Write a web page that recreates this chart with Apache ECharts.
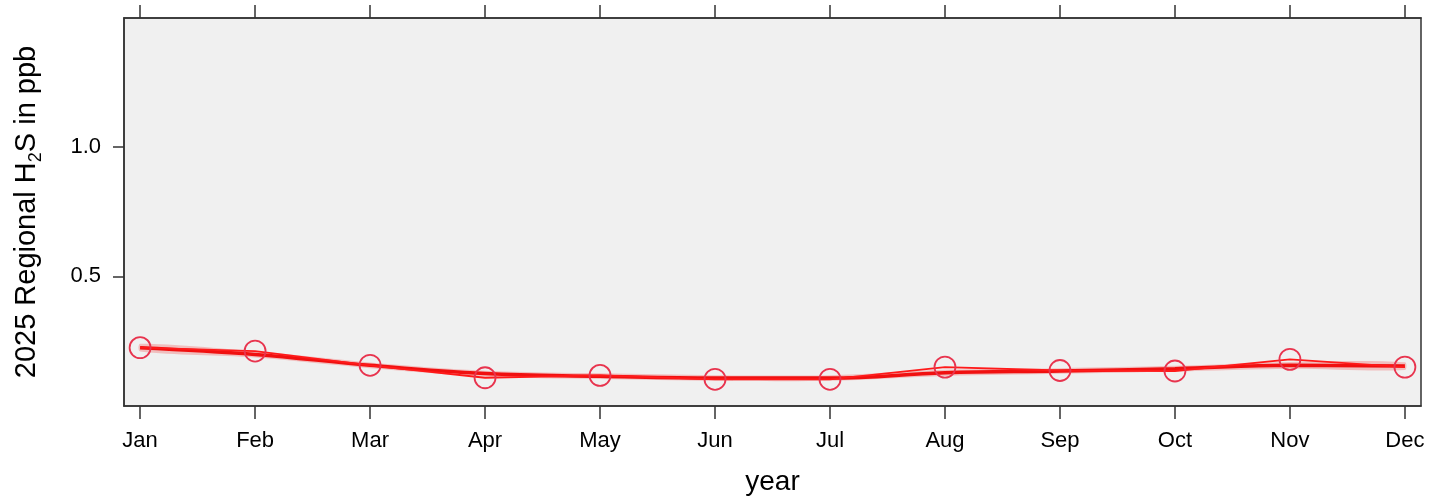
<!DOCTYPE html>
<html><head><meta charset="utf-8">
<script src="https://cdn.jsdelivr.net/npm/echarts@6/dist/echarts.min.js"></script>
<style>html,body{margin:0;padding:0;background:#fff}#c{width:1437px;height:502px}</style>
</head><body><div id="c"></div>
<script>
const months = ['Jan','Feb','Mar','Apr','May','Jun','Jul','Aug','Sep','Oct','Nov','Dec'];
const monthIndex = [0,1,2,3,4,5,6,7,8,9,10,11];
const h2s = [0.225, 0.212, 0.157, 0.109, 0.118, 0.103, 0.103, 0.150, 0.137, 0.135, 0.180, 0.150];
const smooth = [0.225, 0.199, 0.157, 0.125, 0.115, 0.108, 0.108, 0.128, 0.135, 0.144, 0.157, 0.154];
const bandLower = [0.210, 0.187, 0.146, 0.114, 0.104, 0.097, 0.097, 0.116, 0.124, 0.133, 0.144, 0.139];
const bandUpper = [0.240, 0.211, 0.168, 0.136, 0.126, 0.119, 0.119, 0.140, 0.146, 0.155, 0.170, 0.169];
const yTicks = [0.5, 1.0];

const pts = (arr) => monthIndex.map((m, i) => [m, arr[i]]);
const bandData = monthIndex.map((m, i) => [m, bandLower[i], bandUpper[i]]);

const font = 'Liberation Sans, Arial, sans-serif';
const chart = echarts.init(document.getElementById('c'), null, {renderer: 'canvas'});
const xBase = {
  type: 'value', min: -0.14, max: 11.14,
  axisLine: {show: true, onZero: false, lineStyle: {color: '#333', width: 1.5}},
  splitLine: {show: false},
};
chart.setOption({
  animation: false,
  backgroundColor: '#fff',
  grid: {left: 124, top: 18, right: 16, bottom: 96, show: true, backgroundColor: '#f0f0f0', borderColor: '#333', borderWidth: 1.5,
    containLabel: false, outerBoundsMode: 'none'},
  xAxis: [
    Object.assign({}, xBase, {
      position: 'bottom',
      name: 'year', nameLocation: 'middle', nameGap: 62,
      nameTextStyle: {fontFamily: font, fontSize: 28, color: '#000'},
      axisTick: {show: true, length: 13, inside: false, customValues: monthIndex, lineStyle: {color: '#333', width: 1.5}},
      axisLabel: {show: true, customValues: monthIndex, margin: 24, fontFamily: font, fontSize: 22, color: '#000',
        formatter: (v) => months[Math.round(v)]},
    }),
    Object.assign({}, xBase, {
      position: 'top',
      axisTick: {show: true, length: 13, inside: false, customValues: monthIndex, lineStyle: {color: '#333', width: 1.5}},
      axisLabel: {show: false},
    })
  ],
  yAxis: {
    type: 'value', min: 0, max: 1.497,
    axisLine: {show: true, onZero: false, lineStyle: {color: '#333', width: 1.5}},
    splitLine: {show: false},
    axisTick: {show: true, length: 11, customValues: yTicks, lineStyle: {color: '#333', width: 1.5}},
    axisLabel: {customValues: yTicks, margin: 23, fontFamily: font, fontSize: 22, color: '#000',
      formatter: (v) => v.toFixed(1)},
    name: '2025 Regional H{sub|2}S in ppb', nameLocation: 'middle', nameGap: 79, nameRotate: 90,
    nameTextStyle: {fontFamily: font, fontSize: 29, color: '#000', lineHeight: 36,
      rich: {sub: {fontFamily: font, fontSize: 18, color: '#000', verticalAlign: 'bottom', lineHeight: 18}}}
  },
  series: [
    {type: 'custom', data: bandData, silent: true, z: 1,
      renderItem: (params, api) => {
        if (params.dataIndex !== 0) return null;
        const upper = bandData.map(d => api.coord([d[0], d[2]]));
        const lower = bandData.slice().reverse().map(d => api.coord([d[0], d[1]]));
        return {type: 'polygon', shape: {points: upper.concat(lower), smooth: 0.3},
          style: {fill: 'rgba(240,150,150,0.55)'}};
      },
      encode: {x: 0, y: [1, 2]}},
    {type: 'line', data: pts(smooth), smooth: 0.4, symbol: 'none', lineStyle: {color: '#f01010', width: 3.5}, z: 2},
    {type: 'line', data: pts(h2s), symbol: 'circle', symbolSize: 21, z: 3,
      itemStyle: {color: 'rgba(0,0,0,0)', borderColor: '#e8344e', borderWidth: 1.8},
      lineStyle: {color: '#ff1a1a', width: 1.8}}
  ]
});
</script></body></html>
